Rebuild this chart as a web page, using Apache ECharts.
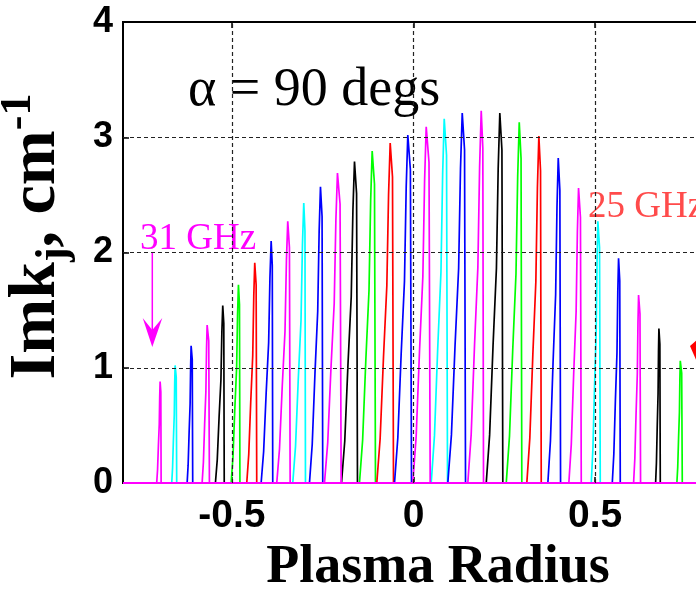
<!DOCTYPE html>
<html><head><meta charset="utf-8">
<script src="https://cdn.jsdelivr.net/npm/echarts@6/dist/echarts.min.js"></script>
<style>html,body{margin:0;padding:0;background:#fff}#c{width:696px;height:590px}</style>
</head><body><div id="c"></div>
<script>
// Each peak: where it leaves the baseline, where it tops out, where it falls back, and its height
const peakStart = [-0.7072,-0.6658,-0.6234,-0.5821,-0.5455,-0.5022,-0.4592,-0.4196,-0.3766,-0.3325,-0.2865,-0.2452,-0.1983,-0.1488,-0.1011,-0.0523,-0.0019,0.0488,0.0945,0.1496,0.2003,0.2554,0.3121,0.3700,0.4278,0.4895,0.5474,0.6061,0.6667,0.7253];
const peakTop   = [-0.6978,-0.6565,-0.6124,-0.5683,-0.5253,-0.4821,-0.4372,-0.3920,-0.3463,-0.3022,-0.2562,-0.2094,-0.1625,-0.1138,-0.0642,-0.0157,0.0350,0.0846,0.1342,0.1865,0.2377,0.2912,0.3452,0.3986,0.4545,0.5077,0.5647,0.6198,0.6758,0.7347];
const peakEnd   = [-0.6950,-0.6521,-0.6080,-0.5620,-0.5212,-0.4780,-0.4317,-0.3876,-0.3397,-0.2975,-0.2499,-0.1992,-0.1543,-0.1047,-0.0551,-0.0055,0.0460,0.0937,0.1433,0.1928,0.2460,0.2983,0.3518,0.4050,0.4620,0.5143,0.5694,0.6253,0.6796,0.7402];
const peakHeight = [0.88,1.02,1.19,1.37,1.54,1.72,1.91,2.10,2.27,2.43,2.57,2.69,2.79,2.88,2.95,3.02,3.09,3.16,3.21,3.23,3.21,3.13,3.01,2.82,2.56,2.27,1.95,1.63,1.34,1.06];
const peakColor = ['m','c','b','m','k','g','r','b','m','c','b','m','k','g','r','b','m','c','b','m','k','g','r','b','m','c','b','m','k','g'];
// Line-shape of one peak (fraction of the rise / fraction of the height)
const riseFrac  = [0, 0.25, 0.5, 0.75, 0.88, 1];
const riseLevel = [0, 0.13, 0.37, 0.58, 0.85, 1];
const fallFrac  = [0.7, 1];
const fallLevel = [0.9, 0];
const xTickValues = [-0.5, 0, 0.5];
const xGridValues = [-0.5, 0, 0.5];
const yGridValues = [1, 2, 3];
const xRange = [-0.8, 0.8];
const yRange = [0, 4];

const colorMap = {m:'#ff00ff', c:'#00ffff', b:'#0000ff', k:'#000000', g:'#00ff00', r:'#ff0000'};

const series = [];
peakTop.forEach((t, i) => {
  const s = peakStart[i], e = peakEnd[i], h = peakHeight[i];
  const pts = [[xRange[0], 0], [s, 0]];
  for (let k = 1; k < riseFrac.length; k++) pts.push([s + (t - s) * riseFrac[k], h * riseLevel[k]]);
  for (let k = 0; k < fallFrac.length; k++) pts.push([t + (e - t) * fallFrac[k], h * fallLevel[k]]);
  pts.push([xRange[1], 0]);
  series.push({
    type: 'line', data: pts, showSymbol: false, symbol: 'none', silent: true,
    z: peakColor[i] === 'm' ? 4 : 3,
    lineStyle: { color: colorMap[peakColor[i]], width: 1.7 },
    animation: false
  });
});
series.push({
  type: 'line', data: [], silent: true, z: 2, animation: false,
  markLine: {
    silent: true, symbol: 'none', animation: false, label: { show: false },
    lineStyle: { color: '#222', type: [4, 3], width: 1.2 },
    data: xGridValues.map(v => ({ xAxis: v })).concat(yGridValues.map(v => ({ yAxis: v })))
  }
});

const chart = echarts.init(document.getElementById('c'));
chart.setOption({
  backgroundColor: '#fff',
  animation: false,
  grid: { left: 123, top: 22, width: 581, height: 461, containLabel: false, outerBoundsMode: 'none',
          show: true, borderColor: '#000', borderWidth: 2, backgroundColor: 'transparent' },
  xAxis: [{
    type: 'value', min: xRange[0], max: xRange[1], position: 'bottom',
    axisLine: { show: true, onZero: false, lineStyle: { color: '#000', width: 2 } },
    axisTick: { show: true, inside: true, length: 6, customValues: xTickValues, lineStyle: { color: '#000', width: 1.5 } },
    axisLabel: { customValues: xTickValues, margin: 14, color: '#000', fontFamily: 'Liberation Sans', fontWeight: 'bold', fontSize: 39, formatter: v => String(v) },
    splitLine: { show: false },
    name: 'Plasma Radius', nameLocation: 'middle', nameGap: 58,
    nameTextStyle: { color: '#000', fontFamily: 'Liberation Serif', fontWeight: 'bold', fontSize: 54, padding: [0, 0, 0, 49] }
  }, {
    type: 'value', min: xRange[0], max: xRange[1], position: 'top',
    axisLine: { show: true, onZero: false, lineStyle: { color: '#000', width: 2 } },
    axisTick: { show: true, inside: true, length: 6, customValues: xTickValues, lineStyle: { color: '#000', width: 1.5 } },
    axisLabel: { show: false }, splitLine: { show: false }
  }],
  yAxis: [{
    type: 'value', min: yRange[0], max: yRange[1], interval: 1,
    axisLine: { show: true, onZero: false, lineStyle: { color: '#000', width: 2 } },
    axisTick: { show: true, inside: true, length: 6, lineStyle: { color: '#000', width: 1.5 } },
    axisLabel: { margin: 10, color: '#000', fontFamily: 'Liberation Sans', fontWeight: 'bold', fontSize: 36 },
    splitLine: { show: false },
    name: '{a|Imk}{sub|j}{a|, cm}{sup|-1}', nameLocation: 'middle', nameGap: 46, nameRotate: 90,
    nameTextStyle: {
      color: '#000', padding: [0, 0, 0, 32],
      rich: {
        a: { fontFamily: 'Liberation Serif', fontWeight: 'bold', fontSize: 66, lineHeight: 80, color: '#000' },
        sub: { fontFamily: 'Liberation Serif', fontWeight: 'bold', fontSize: 44, lineHeight: 80, verticalAlign: 'bottom', color: '#000' },
        sup: { fontFamily: 'Liberation Serif', fontWeight: 'bold', fontSize: 44, lineHeight: 80, verticalAlign: 'top', color: '#000' }
      }
    }
  }],
  graphic: [
    { type: 'text', left: 188, top: 64, style: { text: 'α = 90 degs', font: '54px "Liberation Serif"', fill: '#000' } },
    { type: 'text', left: 140, top: 221, style: { text: '31 GHz', font: '37px "Liberation Serif"', fill: '#ff00ff' } },
    { type: 'line', shape: { x1: 152.3, y1: 253, x2: 152.3, y2: 332 }, style: { stroke: '#ff00ff', lineWidth: 1.5 } },
    { type: 'polygon', shape: { points: [[142.7, 318], [152.3, 347], [162.3, 318], [152.3, 330]] }, style: { fill: '#ff00ff' } },
    { type: 'text', left: 588, top: 189, style: { text: '25 GHz', font: '37px "Liberation Serif"', fill: '#ff4b4b' } },
    { type: 'polygon', shape: { points: [[690, 346], [697, 340], [697, 362]] }, style: { fill: '#ff0000' } }
  ],
  series: series
});
</script></body></html>
